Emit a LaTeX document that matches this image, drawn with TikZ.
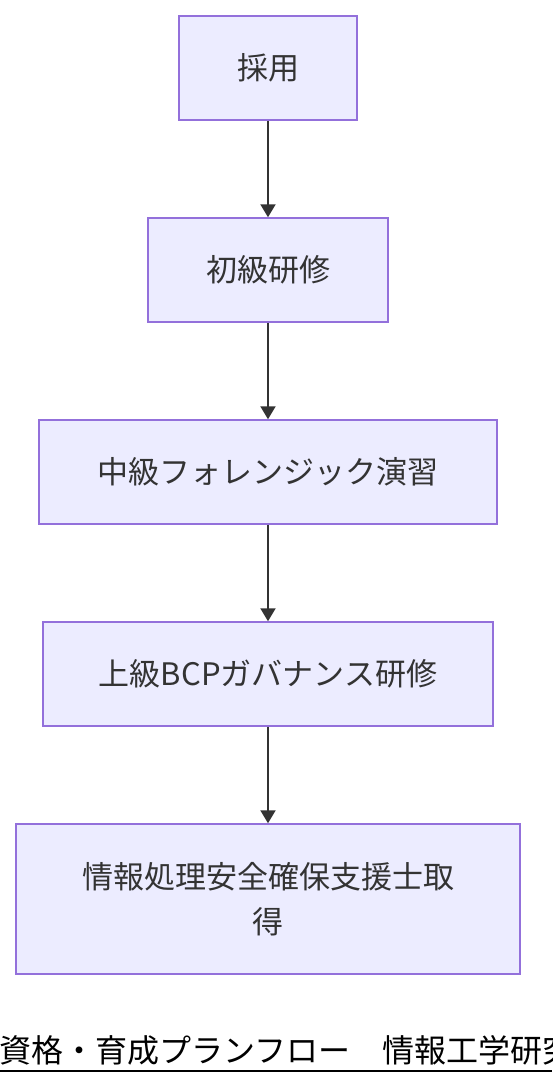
\documentclass[tikz,border=0pt]{standalone}
\usepackage{fontspec}
\setmainfont{Noto Sans CJK JP}
\usetikzlibrary{arrows.meta}
\definecolor{boxfill}{HTML}{ECECFF}
\definecolor{boxline}{HTML}{9370DB}
\definecolor{arrowc}{HTML}{333333}
\definecolor{textc}{HTML}{333333}
\tikzset{
  flowbox/.style={draw=boxline, fill=boxfill, line width=1.5pt, inner sep=0pt,
    text=textc, font=\fontsize{31}{45}\selectfont, align=center},
  flowarrow/.style={draw=arrowc, line width=2pt, -{Triangle[length=13pt,width=15pt]}}
}
\begin{document}
\begin{tikzpicture}[x=1pt,y=-1pt]
\useasboundingbox (0,0) rectangle (552,1084);
\clip (0,0) rectangle (552,1084);
\fill[white] (0,0) rectangle (552,1084);
\node[flowbox, minimum width=178pt, minimum height=104pt] (a) at (268,68) {採用};
\node[flowbox, minimum width=240pt, minimum height=104pt] (b) at (268,270) {初級研修};
\node[flowbox, minimum width=458pt, minimum height=104pt] (c) at (268,472) {中級フォレンジック演習};
\node[flowbox, minimum width=450pt, minimum height=104pt] (d) at (268,674) {上級BCPガバナンス研修};
\node[flowbox, minimum width=504pt, minimum height=150pt] (e) at (268,899) {情報処理安全確保支援士取\\得};
\draw[flowarrow] (a) -- (b);
\draw[flowarrow] (b) -- (c);
\draw[flowarrow] (c) -- (d);
\draw[flowarrow] (d) -- (e);
\node[anchor=base west, inner sep=0pt, text=black, font=\fontsize{32}{36}\selectfont] (title) at (-1,1062) {資格・育成プランフロー　情報工学研究室};
\draw[black, line width=2.2pt] (0,1071) -- (552,1071);
\end{tikzpicture}
\end{document}
